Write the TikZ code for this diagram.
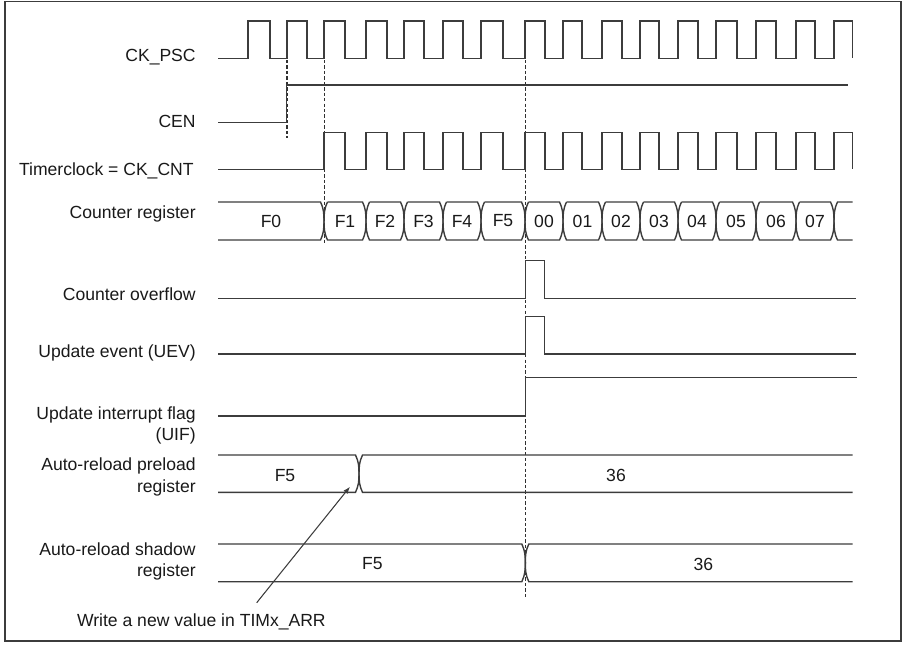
\documentclass[tikz,border=0pt]{standalone}
\usepackage{fontspec}
\setmainfont{Liberation Sans}
\usetikzlibrary{arrows.meta}
\definecolor{sigc}{RGB}{60,60,60}
\definecolor{txtc}{RGB}{25,25,25}
\begin{document}
\begin{tikzpicture}[x=0.02cm,y=-0.02cm,
  sig/.style={draw=sigc,line width=0.8pt,line join=miter},
  guide/.style={draw=sigc!80!black,line width=0.9pt,dash pattern=on 1.9pt off 1.2pt},
  lbl/.style={font=\fontsize{10}{12}\selectfont,text=txtc,inner sep=0pt,anchor=base east},
  val/.style={font=\fontsize{10}{12}\selectfont,text=txtc,inner sep=0pt}]
\useasboundingbox (0,0) rectangle (911,646);
\draw[line width=0.9pt,draw=sigc] (5,1.5) rectangle (901,641);

% labels
\node[lbl] (lpsc) at (196,61.7) {CK\_PSC};
\node[lbl] (lcen) at (196,127.3) {CEN};
\node[lbl] (lcnt) at (194,175) {Timerclock = CK\_CNT};
\node[lbl] (lreg) at (196,218.3) {Counter register};
\node[lbl] (lovf) at (196,300.7) {Counter overflow};
\node[lbl] (luev) at (196,357.3) {Update event (UEV)};
\node[lbl] (luif) at (196,419) {Update interrupt flag};
\node[lbl] (luifb) at (196,440) {(UIF)};
\node[lbl] (lpre) at (196,470.7) {Auto-reload preload};
\node[lbl] (lpreb) at (196,492) {register};
\node[lbl] (lsha) at (196,555) {Auto-reload shadow};
\node[lbl] (lshab) at (196,576.7) {register};

% dashed guides
\draw[guide] (287,60) -- (287,138);
\draw[guide] (324.3,60) -- (324.3,245);
\draw[guide] (525.5,60) -- (525.5,598);

% CK_PSC
\draw[sig] (218,58.3) foreach \r/\f in {248/270,287/307,324/345,366/387,404/424,443/463,481/503,525/545,563/582,602/622,640/659,678/698,716/737,756/776,796/815,834/852.7} { -- (\r,58.3) -- (\r,21) -- (\f,21) -- (\f,58.3) };

% CEN
\draw[sig] (218,122.3) -- (286.7,122.3) -- (286.7,85) -- (848.3,85);

% CK_CNT
\draw[sig] (218,169.3) foreach \r/\f in {324/345,366/387,404/424,443/463,481/503,525/545,563/582,602/622,640/659,678/698,716/737,756/776,796/815,834/852.7} { -- (\r,169.3) -- (\r,132.3) -- (\f,132.3) -- (\f,169.3) };

% Counter register
\draw[sig] (218,202) -- (320.5,202) to[out=-65,in=90] (324,221) to[out=-90,in=65] (320.5,240) -- (218,240);
\node[val] (cr0) at (271,221) {F0};
\foreach \a/\b/\t [count=\i] in {324/366/F1,366/404/F2,404/443/F3,443/481/F4,481/525/F5,525/563/00,563/602/01,602/640/02,640/678/03,678/716/04,716/756/05,756/796/06,796/834/07} {
  \draw[sig] ({\a+3.5},202) -- ({\b-3.5},202) to[out=-65,in=90] (\b,221) to[out=-90,in=65] ({\b-3.5},240) -- ({\a+3.5},240) to[out=115,in=-90] (\a,221) to[out=90,in=-115] ({\a+3.5},202);
  \node[val] (cr\i) at ({(\a+\b)/2},221) {\t};
}
\draw[sig] (852.7,202) -- (837.5,202) to[out=-115,in=90] (834,221) to[out=-90,in=115] (837.5,240) -- (852.7,240);

% Counter overflow
\draw[sig] (218.3,298.3) -- (525.5,298.3) -- (525.5,260.7) -- (544.3,260.7) -- (544.3,298.3) -- (856,298.3);
% UEV
\draw[sig] (218.3,354) -- (525.5,354) -- (525.5,316.3) -- (544.3,316.3) -- (544.3,354) -- (856,354);
% UIF
\draw[sig] (218.3,416) -- (525.5,416) -- (525.5,377.7) -- (857,377.7);

% Auto-reload preload
\draw[sig] (218,455) -- (355.5,455) to[out=-65,in=90] (359,473.7) to[out=-90,in=65] (355.5,492.3) -- (218,492.3);
\draw[sig] (852.7,455) -- (362.5,455) to[out=-115,in=90] (359,473.7) to[out=-90,in=115] (362.5,492.3) -- (852.7,492.3);
\node[val] (pre0) at (285,475.8) {F5};
\node[val] (pre1) at (616,475.8) {36};

% Auto-reload shadow
\draw[sig] (218,544) -- (521.8,544) to[out=-65,in=90] (525.3,562.9) to[out=-90,in=65] (521.8,581.7) -- (218,581.7);
\draw[sig] (852.7,544) -- (528.8,544) to[out=-115,in=90] (525.3,562.9) to[out=-90,in=115] (528.8,581.7) -- (852.7,581.7);
\node[val] (sha0) at (372.3,564) {F5};
\node[val] (sha1) at (703.3,564) {36};

% annotation
\node[val,anchor=base west] (wtxt) at (76.7,626.7) {Write a new value in TIMx\_ARR};
\coordinate (wfrom) at (256.7,602.7);
\coordinate (wtip) at (350,486.7);
\draw[draw=sigc,line width=0.6pt,-{Latex[length=4pt,width=3pt]}] (wfrom) -- (wtip);
\end{tikzpicture}
\end{document}
